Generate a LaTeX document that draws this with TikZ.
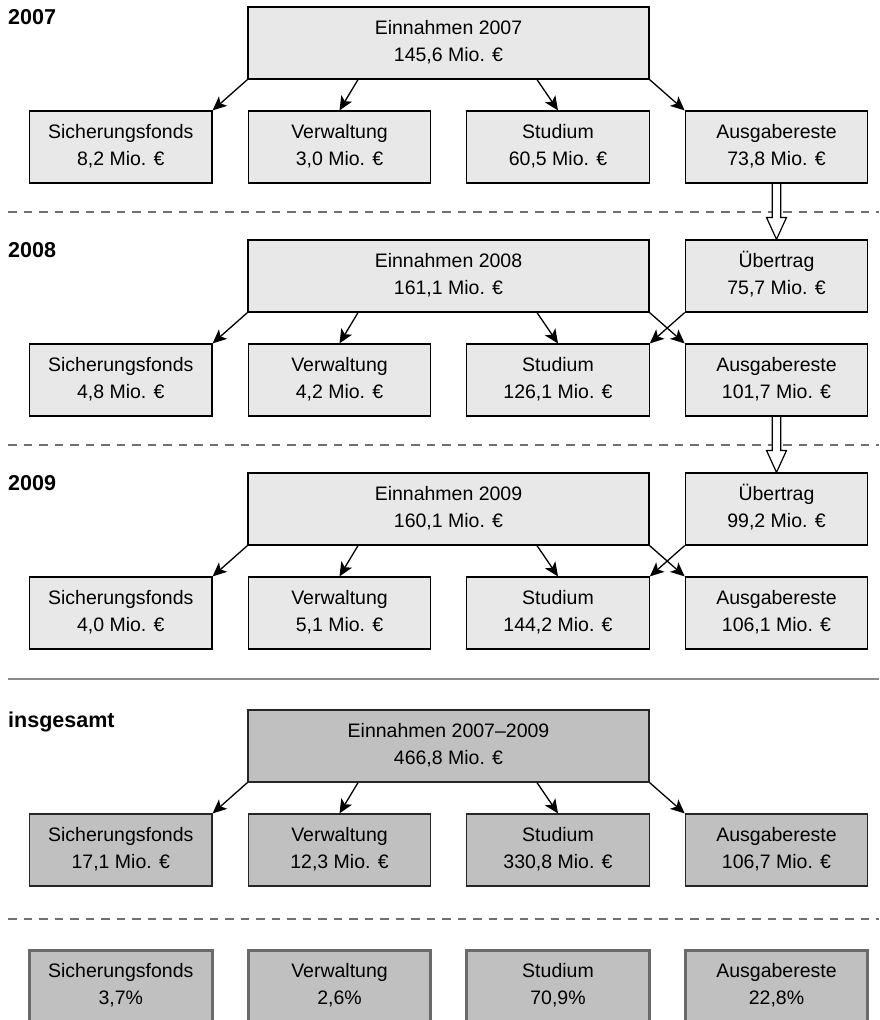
\documentclass[tikz,border=0pt]{standalone}
\usepackage{fontspec}
\setmainfont{Liberation Sans}
\usetikzlibrary{arrows.meta,calc}
\definecolor{boxlight}{HTML}{E8E8E8}
\definecolor{boxdark}{HTML}{C0C0C0}
\definecolor{pctline}{HTML}{6A6A6A}
\definecolor{sepline}{HTML}{707070}
\definecolor{solidline}{HTML}{8A8A8A}
\newcommand\twoline[2]{\vtop{\halign{\hfil##\hfil\cr#1\cr#2\cr}}}
\newcommand\boxfont{\fontsize{19.5}{27}\selectfont}
\newcommand\yearfont{\fontsize{21.5}{24}\selectfont\bfseries}
\tikzset{
  box/.style={draw=black, line width=1.2pt, fill=boxlight, minimum width=182.5pt,
    minimum height=72pt, inner sep=0pt, text height=14pt, text depth=32pt, font=\boxfont},
  wide/.style={box, minimum width=401pt},
  darkbox/.style={fill=boxdark, draw=black!85},
  pct/.style={box, fill=boxdark, draw=pctline, line width=3pt},
  arr/.style={-{Stealth[length=14pt,width=12.5pt,inset=3.5pt]}, line width=1.3pt},
  hollow/.style={draw=black, line width=1.2pt, fill=white, line join=miter},
  dashsep/.style={draw=sepline, line width=2pt, dash pattern=on 8.5pt off 7pt},
  solidsep/.style={draw=solidline, line width=2pt},
  yearlab/.style={anchor=base west, inner sep=0pt, font=\yearfont},
}
\begin{document}
\begin{tikzpicture}[x=1pt,y=-1pt]
\useasboundingbox (0,0) rectangle (879,1020);
% separators
\coordinate (d1a) at (8,212); \coordinate (d1b) at (879,212);
\coordinate (d2a) at (8,445); \coordinate (d2b) at (879,445);
\coordinate (s1a) at (8,679); \coordinate (s1b) at (879,679);
\coordinate (d3a) at (8,919); \coordinate (d3b) at (879,919);
\draw[dashsep] (d1a) -- (d1b);
\draw[dashsep] (d2a) -- (d2b);
\draw[solidsep] (s1a) -- (s1b);
\draw[dashsep] (d3a) -- (d3b);
% labels
\node[yearlab] (y07) at (8,24) {2007};
\node[yearlab] (y08) at (8,257) {2008};
\node[yearlab] (y09) at (8,490) {2009};
\node[yearlab] (yall) at (8,727) {insgesamt};
% row 2007
\node[wide] (e1) at (448.5,43) {\twoline{Einnahmen 2007}{145,6 Mio. €}};
\node[box] (s1) at (120.75,147) {\twoline{Sicherungsfonds}{8,2 Mio. €}};
\node[box] (v1) at (339.5,147) {\twoline{Verwaltung}{3,0 Mio. €}};
\node[box] (t1) at (558,147) {\twoline{Studium}{60,5 Mio. €}};
\node[box] (a1) at (776.5,147) {\twoline{Ausgabereste}{73,8 Mio. €}};
% row 2008
\node[wide] (e2) at (448.5,276) {\twoline{Einnahmen 2008}{161,1 Mio. €}};
\node[box] (u2) at (776.5,276) {\twoline{Übertrag}{75,7 Mio. €}};
\node[box] (s2) at (120.75,380) {\twoline{Sicherungsfonds}{4,8 Mio. €}};
\node[box] (v2) at (339.5,380) {\twoline{Verwaltung}{4,2 Mio. €}};
\node[box] (t2) at (558,380) {\twoline{Studium}{126,1 Mio. €}};
\node[box] (a2) at (776.5,380) {\twoline{Ausgabereste}{101,7 Mio. €}};
% row 2009
\node[wide] (e3) at (448.5,509) {\twoline{Einnahmen 2009}{160,1 Mio. €}};
\node[box] (u3) at (776.5,509) {\twoline{Übertrag}{99,2 Mio. €}};
\node[box] (s3) at (120.75,613) {\twoline{Sicherungsfonds}{4,0 Mio. €}};
\node[box] (v3) at (339.5,613) {\twoline{Verwaltung}{5,1 Mio. €}};
\node[box] (t3) at (558,613) {\twoline{Studium}{144,2 Mio. €}};
\node[box] (a3) at (776.5,613) {\twoline{Ausgabereste}{106,1 Mio. €}};
% total
\node[wide, darkbox] (e4) at (448.5,746) {\twoline{Einnahmen 2007–2009}{466,8 Mio. €}};
\node[box, darkbox] (s4) at (120.75,850) {\twoline{Sicherungsfonds}{17,1 Mio. €}};
\node[box, darkbox] (v4) at (339.5,850) {\twoline{Verwaltung}{12,3 Mio. €}};
\node[box, darkbox] (t4) at (558,850) {\twoline{Studium}{330,8 Mio. €}};
\node[box, darkbox] (a4) at (776.5,850) {\twoline{Ausgabereste}{106,7 Mio. €}};
% percentages
\node[pct] (s5) at (120.75,986) {\twoline{Sicherungsfonds}{3,7\%}};
\node[pct] (v5) at (339.5,986) {\twoline{Verwaltung}{2,6\%}};
\node[pct] (t5) at (558,986) {\twoline{Studium}{70,9\%}};
\node[pct] (a5) at (776.5,986) {\twoline{Ausgabereste}{22,8\%}};
% arrows
\foreach \r in {1,2,3,4}{
  \draw[arr] (e\r.south west) -- (s\r.north east);
  \draw[arr] ($(e\r.south)+(-90.5,0)$) -- (v\r.north);
  \draw[arr] ($(e\r.south)+(88.5,0)$) -- (t\r.north);
  \draw[arr] (e\r.south east) -- (a\r.north west);
}
\draw[arr] (u2.south west) -- (t2.north east);
\draw[arr] (u3.south west) -- (t3.north east);
% carry-over arrows
\draw[hollow] ($(a1.south)+(-4.25,0.6)$) -- ($(u2.north)+(-4.25,-22)$) -- ($(u2.north)+(-10,-22)$)
  -- (u2.north) -- ($(u2.north)+(10,-22)$) -- ($(u2.north)+(4.25,-22)$) -- ($(a1.south)+(4.25,0.6)$);
\draw[hollow] ($(a2.south)+(-4.25,0.6)$) -- ($(u3.north)+(-4.25,-22)$) -- ($(u3.north)+(-10,-22)$)
  -- (u3.north) -- ($(u3.north)+(10,-22)$) -- ($(u3.north)+(4.25,-22)$) -- ($(a2.south)+(4.25,0.6)$);
\end{tikzpicture}
\end{document}
